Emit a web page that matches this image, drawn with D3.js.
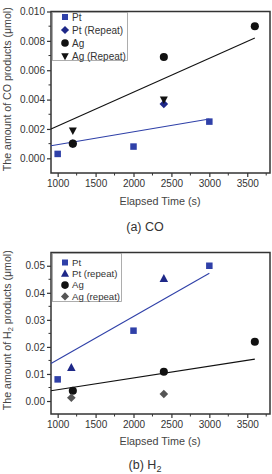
<!DOCTYPE html>
<html><head><meta charset="utf-8">
<script src="https://cdn.jsdelivr.net/npm/d3@7"></script>
<style>body{margin:0;background:#fff;} svg{display:block;font-family:"Liberation Sans",Arial,sans-serif;}</style>
</head><body>
<svg id="c" width="272" height="474"></svg>
<script>
// ---- Data ----
const xTicks = [1000,1500,2000,2500,3000,3500];
// (a) CO
const coYTicks = [0.000,0.002,0.004,0.006,0.008,0.010];
const coPt = [[1000,0.0003],[2000,0.0008],[3000,0.0025]];
const coPtRepeat = [[1200,0.0010],[2400,0.0037]];
const coAg = [[1200,0.0010],[2400,0.0069],[3600,0.0090]];
const coAgRepeat = [[1200,0.0019],[2400,0.0040]];
const coPtFit = [[912,0.00086],[3000,0.00268]];
const coAgFit = [[912,0.0020],[3600,0.0082]];
const coLegend = ["Pt","Pt (Repeat)","Ag","Ag (Repeat)"];
// (b) H2
const h2YTicks = [0.00,0.01,0.02,0.03,0.04,0.05];
const h2Pt = [[1000,0.008],[2000,0.026],[3000,0.050]];
const h2PtRepeat = [[1180,0.0123],[2400,0.0452]];
const h2Ag = [[1200,0.0038],[2400,0.0108],[3600,0.0219]];
const h2AgRepeat = [[1180,0.0012],[2400,0.0026]];
const h2PtFit = [[912,0.0139],[3000,0.0472]];
const h2AgFit = [[912,0.0038],[3600,0.0155]];
const h2Legend = ["Pt","Pt (repeat)","Ag","Ag (repeat)"];

const svg = d3.select("#c");
const BLUE="#2f40a8", NAVY="#1e2888", BLACK="#111", GRAY="#555";

function sym(g, type, x, y, color, s){
  if(type==="square") g.append("rect").attr("x",x-s/2).attr("y",y-s/2).attr("width",s).attr("height",s).attr("fill",color);
  else if(type==="circle") g.append("circle").attr("cx",x).attr("cy",y).attr("r",s/2+0.3).attr("fill",color);
  else if(type==="diamond") g.append("path").attr("d",`M${x},${y-s/2-0.8}L${x+s/2+0.8},${y}L${x},${y+s/2+0.8}L${x-s/2-0.8},${y}Z`).attr("fill",color);
  else if(type==="tridown") g.append("path").attr("d",`M${x-s/2-0.5},${y-s/2+0.5}L${x+s/2+0.5},${y-s/2+0.5}L${x},${y+s/2+1}Z`).attr("fill",color);
  else if(type==="triup") g.append("path").attr("d",`M${x-s/2-0.5},${y+s/2-0.5}L${x+s/2+0.5},${y+s/2-0.5}L${x},${y-s/2-1}Z`).attr("fill",color);
}

function panel(o){
  const L=51, R=270, T=o.top, B=o.bottom;
  const x = d3.scaleLinear().domain([912,3800]).range([L,R]);
  const y = d3.scaleLinear().domain(o.ydom).range([B,T]);
  const g = svg.append("g");
  // minor ticks
  const xMinor = d3.range(1250,3800,500);
  g.selectAll(null).data(xMinor).join("line").attr("x1",d=>x(d)).attr("x2",d=>x(d)).attr("y1",B).attr("y2",B+2.5).attr("stroke","#333").attr("stroke-width",1);
  const yStep = o.yTicks[1]-o.yTicks[0];
  const yMinor = o.yTicks.map(t=>t+yStep/2).concat([o.yTicks[0]-yStep/2]).filter(v=>v>o.ydom[0]&&v<o.ydom[1]);
  g.selectAll(null).data(yMinor).join("line").attr("x1",L-2.5).attr("x2",L).attr("y1",d=>y(d)).attr("y2",d=>y(d)).attr("stroke","#333").attr("stroke-width",1);
  // axes
  const xa = g.append("g").attr("transform",`translate(0,${B})`).call(d3.axisBottom(x).tickValues(xTicks).tickSize(4).tickPadding(3).tickFormat(d3.format("d")));
  const ya = g.append("g").attr("transform",`translate(${L},0)`).call(d3.axisLeft(y).tickValues(o.yTicks).tickSize(4).tickPadding(2).tickFormat(d3.format(o.fmt)));
  [xa,ya].forEach(a=>{a.select(".domain").remove();a.selectAll("line").attr("stroke","#333").attr("stroke-width",1.2);a.selectAll("text").attr("font-size",10).attr("fill","#333").attr("font-family","Liberation Sans, Arial, sans-serif");});
  // frame
  g.append("rect").attr("x",L).attr("y",T).attr("width",R-L).attr("height",B-T).attr("fill","none").attr("stroke","#333").attr("stroke-width",1.5);
  // fits
  const line = d3.line().x(d=>x(d[0])).y(d=>y(d[1]));
  g.append("path").attr("d",line(o.ptFit)).attr("stroke",BLUE).attr("stroke-width",1.1).attr("fill","none");
  g.append("path").attr("d",line(o.agFit)).attr("stroke",BLACK).attr("stroke-width",1.1).attr("fill","none");
  // points
  o.series.forEach(s=>s.data.forEach(d=>sym(g,s.type,x(d[0]),y(d[1]),s.color,s.size)));
  // legend
  const lg = g.append("g");
  lg.append("rect").attr("x",L+1.5).attr("y",T+1).attr("width",o.legW).attr("height",o.legH).attr("fill","#fff").attr("stroke","#999").attr("stroke-width",0.8);
  o.series.forEach((s,i)=>{
    const yy = T+1+o.legY0+i*o.legDy;
    sym(lg,s.type,L+14,yy,s.color,s.size-0.5);
    lg.append("text").attr("x",L+21).attr("y",yy).attr("dy","0.35em").attr("font-size",o.legFont).attr("fill","#333").text(o.legend[i]);
  });
  // y label
  g.append("text").attr("transform",`translate(11,${(T+B)/2 - 3}) rotate(-90)`).attr("text-anchor","middle").attr("font-size",10.6).attr("fill","#444").html(o.ylab);
  // x label
  g.append("text").attr("x",160).attr("y",o.xlabY).attr("dy","0.35em").attr("text-anchor","middle").attr("font-size",10.8).attr("fill","#444").text("Elapsed Time (s)");
  // caption
  g.append("text").attr("x",145).attr("y",o.capY).attr("dy","0.35em").attr("text-anchor","middle").attr("font-size",12.5).attr("fill","#333").html(o.cap);
}

panel({top:11.5,bottom:173,ydom:[-0.001,0.0100],yTicks:coYTicks,fmt:".3f",
  ptFit:coPtFit,agFit:coAgFit,legend:coLegend,
  series:[{data:coPt,type:"square",color:BLUE,size:6.5},{data:coPtRepeat,type:"diamond",color:NAVY,size:7},{data:coAg,type:"circle",color:BLACK,size:7.5},{data:coAgRepeat,type:"tridown",color:BLACK,size:7}],
  legW:75,legH:48,legY0:4.5,legDy:13,legFont:10,
  ylab:'The amount of CO products (<tspan>μ</tspan>mol)',xlabY:201.5,capY:226.5,cap:'(a) CO'});

panel({top:252.5,bottom:414,ydom:[-0.0048,0.0549],yTicks:h2YTicks,fmt:".2f",
  ptFit:h2PtFit,agFit:h2AgFit,legend:h2Legend,
  series:[{data:h2Pt,type:"square",color:BLUE,size:6.5},{data:h2PtRepeat,type:"triup",color:NAVY,size:7.5},{data:h2Ag,type:"circle",color:BLACK,size:7.5},{data:h2AgRepeat,type:"diamond",color:GRAY,size:7}],
  legW:69,legH:48,legY0:9,legDy:11.3,legFont:9.6,
  ylab:'The amount of H<tspan dy="2" font-size="7.5">2</tspan><tspan dy="-2"> products (μmol)</tspan>',xlabY:441.5,capY:465,cap:'(b) H<tspan dy="2.5" font-size="9">2</tspan>'});
</script>
</body></html>
